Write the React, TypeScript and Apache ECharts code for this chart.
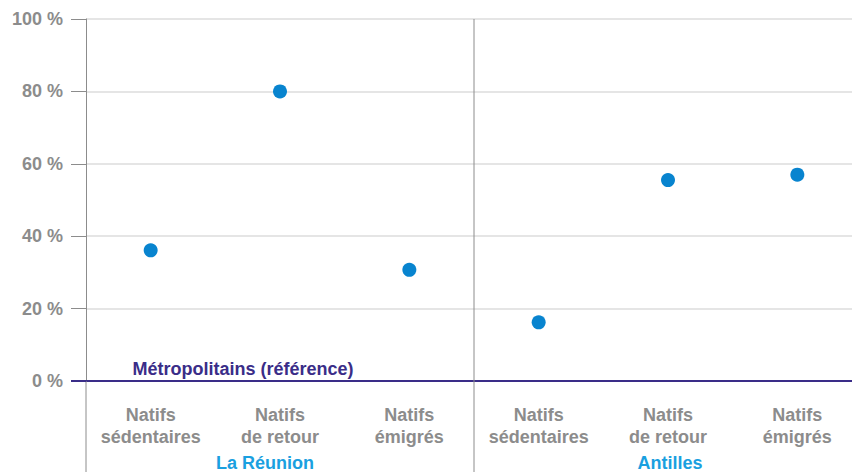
import React, { useEffect, useRef } from "react";
import * as echarts from "echarts";

const categories = [
  "Natifs\nsédentaires",
  "Natifs\nde retour",
  "Natifs\némigrés",
  "Natifs\nsédentaires",
  "Natifs\nde retour",
  "Natifs\némigrés",
];
const values = [36.1, 80, 30.7, 16.2, 55.5, 57.0];
const groups = ["La Réunion", "Antilles"];
const referenceLabel = "Métropolitains (référence)";
const yTicks = [0, 20, 40, 60, 80, 100];

const GRAY = "#8c8c8c";
const PURPLE = "#3a2d88";
const BLUE = "#0884cf";
const LIGHT_BLUE = "#1aa0e0";
const FONT = "Liberation Sans, Arial, sans-serif";

export default function App() {
  const ref = useRef<HTMLDivElement>(null);
  useEffect(() => {
    if (!ref.current) return;
    const chart = echarts.init(ref.current, undefined, { renderer: "svg" });
    chart.setOption({
      animation: false,
      grid: { left: 86, top: 19, right: 0, bottom: 91, containLabel: false },
      xAxis: {
        type: "category",
        data: categories,
        boundaryGap: true,
        axisLine: { show: true, lineStyle: { color: PURPLE, width: 2 } },
        axisTick: { show: false },
        splitLine: { show: false },
        axisLabel: {
          interval: 0,
          color: GRAY,
          fontFamily: FONT,
          fontWeight: "bold",
          fontSize: 18,
          lineHeight: 22,
          margin: 23,
        },
        z: 3,
      },
      yAxis: {
        type: "value",
        min: yTicks[0],
        max: yTicks[yTicks.length - 1],
        interval: 20,
        axisLine: { show: true, lineStyle: { color: GRAY, width: 1 } },
        axisTick: { show: true, length: 15, lineStyle: { color: GRAY } },
        splitLine: { show: true, lineStyle: { color: "#dcdcdc", width: 1.5 } },
        axisLabel: {
          formatter: "{value} %",
          color: GRAY,
          fontFamily: FONT,
          fontWeight: "bold",
          fontSize: 18,
          margin: 23,
        },
      },
      series: [
        {
          type: "scatter",
          data: values,
          symbol: "circle",
          symbolSize: 14,
          itemStyle: { color: BLUE, opacity: 1 },
          z: 5,
        },
      ],
    });

    const p0 = chart.convertToPixel({ xAxisIndex: 0 }, 0) as number;
    const p1 = chart.convertToPixel({ xAxisIndex: 0 }, 1) as number;
    const p2 = chart.convertToPixel({ xAxisIndex: 0 }, 2) as number;
    const p3 = chart.convertToPixel({ xAxisIndex: 0 }, 3) as number;
    const p4 = chart.convertToPixel({ xAxisIndex: 0 }, 4) as number;
    const step = p1 - p0;
    const gridLeft = p0 - step / 2;
    const divider = (p2 + p3) / 2;
    const yZero = chart.convertToPixel({ yAxisIndex: 0 }, 0) as number;
    const yTop = chart.convertToPixel({ yAxisIndex: 0 }, 100) as number;
    const H = 472;

    const textStyle = (text: string, fill: string) => ({
      text,
      fill,
      font: `bold 18px ${FONT}`,
      textAlign: "center",
      textVerticalAlign: "middle",
      verticalAlign: "middle",
    });

    chart.setOption({
      graphic: [
        {
          type: "line",
          shape: { x1: divider, y1: yTop, x2: divider, y2: H },
          style: { stroke: GRAY, lineWidth: 1 },
          z: 10,
        },
        {
          type: "line",
          shape: { x1: gridLeft, y1: yZero, x2: gridLeft, y2: H },
          style: { stroke: GRAY, lineWidth: 1 },
          z: 10,
        },
        {
          type: "line",
          shape: { x1: gridLeft - 15, y1: yZero, x2: gridLeft, y2: yZero },
          style: { stroke: PURPLE, lineWidth: 2 },
          z: 10,
        },
        {
          type: "text",
          x: gridLeft + 157,
          y: yZero - 12,
          style: textStyle(referenceLabel, PURPLE),
          z: 10,
        },
        {
          type: "text",
          x: p1 - 15,
          y: H - 9,
          style: textStyle(groups[0], LIGHT_BLUE),
          z: 10,
        },
        {
          type: "text",
          x: p4 + 2,
          y: H - 9,
          style: textStyle(groups[1], LIGHT_BLUE),
          z: 10,
        },
      ],
    });

    return () => chart.dispose();
  }, []);

  return (
    <div
      style={{
        position: "absolute",
        left: 0,
        top: 0,
        width: 852,
        height: 472,
        overflow: "hidden",
        background: "#fff",
      }}
    >
      <div ref={ref} style={{ width: 862, height: 472 }} />
    </div>
  );
}
